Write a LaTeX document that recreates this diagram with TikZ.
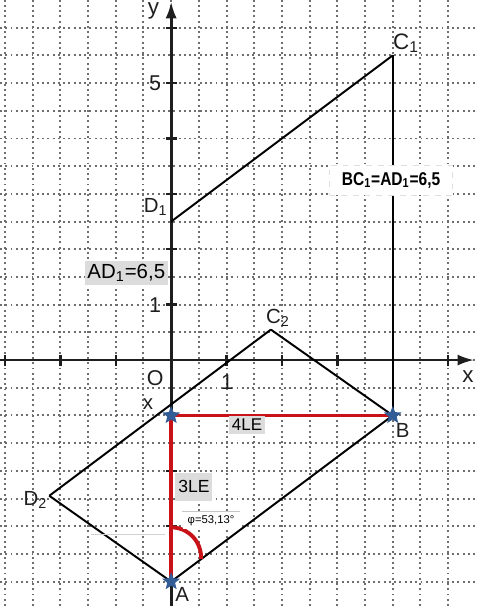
\documentclass[tikz,border=0pt]{standalone}
\usepackage{fontspec}
\setmainfont{Liberation Sans}
\usetikzlibrary{arrows.meta}
\usetikzlibrary{shapes.geometric}
\definecolor{red1}{RGB}{200, 18, 24}
\definecolor{blue1}{RGB}{50, 92, 150}
\definecolor{grid1}{RGB}{110, 110, 110}
\definecolor{gray1}{RGB}{220, 220, 220}
\definecolor{ink1}{RGB}{30, 30, 30}

\begin{document}
\begin{tikzpicture}[line width=1pt,
  gridline/.style={grid1, line width=1pt, dash pattern=on 1pt off 1.7pt},
  axisline/.style={ink1, line width=1.4pt, -{Latex[length=0.3cm,width=0.2cm]}},
  redline/.style={red1, line width=2pt},
  starnode/.style={star, star points=5, star point ratio=2.3, fill=blue1, minimum size=0.34cm, inner sep=0pt},
  graybox/.style={fill=gray1, inner sep=1.5pt},
  lbl/.style={ink1, font=\fontsize{10.5}{12}\selectfont, inner sep=0pt}]
  \useasboundingbox (-3.09,-4.44) rectangle (5.505,6.5);

  % grid
  \foreach \x in {-3,-2.5,...,5.1}
   \draw[gridline] (\x,-4.44) -- (\x,6.5);
  \foreach \y in {-4,-3.5,...,6.1}
   \draw[gridline] (-3.09,\y) -- (5.505,\y);

  % axes
  \coordinate (xl) at (-3.09,0);
  \coordinate (xr) at (5.47,0);
  \coordinate (yb) at (0,-4.44);
  \coordinate (yt) at (0,6.47);
  \draw[axisline] (xl) -- (xr);
  \draw[axisline] (yb) -- (yt);
  \foreach \x in {-3,-2,-1,1,2,3,4,5}
   \draw[ink1, line width=1.2pt] (\x,0.1) -- (\x,-0.1);
  \foreach \y in {-3,-2,1,2,3,4,5,6}
   \draw[ink1, line width=1.2pt] (0.1,\y) -- (-0.1,\y);

  \node[lbl, font=\fontsize{11.5}{13}\selectfont] (ylab) at (-0.32,6.3) {y};
  \node[lbl, font=\fontsize{11.5}{13}\selectfont] (xlab) at (5.36,-0.3) {x};
  \node[lbl, font=\fontsize{11}{13}\selectfont] (five) at (-0.29,5) {5};
  \node[lbl, font=\fontsize{11}{13}\selectfont] (oneY) at (-0.29,1) {1};
  \node[lbl, font=\fontsize{11}{13}\selectfont] (orig) at (-0.29,-0.33) {O};
  \node[lbl, font=\fontsize{11}{13}\selectfont] (oneX) at (1.01,-0.4) {1};

  % points
  \coordinate (A) at (0,-4);
  \coordinate (X) at (0,-1);
  \coordinate (B) at (4,-1);
  \coordinate (C1) at (4,5.5);
  \coordinate (D1) at (0,2.5);
  \coordinate (C2) at (1.8,0.55);
  \coordinate (D2) at (-2.2,-2.45);
  \coordinate (phiA) at (0,-3.02);

  \foreach \from/\to in {D1/C1, C1/B, A/B, B/C2, C2/D2, D2/A}
   \draw[black] (\from) -- (\to);

  \draw[redline] (A) -- (X) -- (B);
  \draw[redline] (phiA) arc[start angle=90, end angle=-3, radius=0.54];

  % boxes
  \node[graybox, font=\fontsize{10.5}{12}\selectfont] (ad1) at (-0.81,1.57) {AD\textsubscript{1}=6,5};
  \node[fill=white, draw=gray!25, dashed, line width=0.4pt, minimum width=2.22cm, minimum height=0.54cm] (bc1) at (3.97,3.25)
   {\scalebox{0.84}[1]{\fontsize{9.5}{11}\selectfont\bfseries BC\textsubscript{1}=AD\textsubscript{1}=6,5}};
  \node[graybox, font=\fontsize{8.7}{10}\selectfont] (le4) at (1.37,-1.17) {4LE};
  \node[graybox, font=\fontsize{9}{10}\selectfont, minimum height=0.5cm, minimum width=0.6cm] (le3) at (0.41,-2.29) {3LE};
  \node[fill=white, inner sep=1.5pt, minimum width=1.02cm, font=\fontsize{5.8}{7}\selectfont] (phi) at (0.72,-2.9) {φ=53,13°};
  \draw[gray!45, line width=0.5pt] (phi.north west) -- (phi.north east);
  \coordinate (g1) at (-1.45,-3.14);
  \coordinate (g2) at (-0.12,-3.14);
  \draw[gray!35, line width=0.5pt] (g1) -- (g2);

  % stars
  \node[starnode] (sA) at (A) {};
  \node[starnode] (sX) at (X) {};
  \node[starnode] (sB) at (B) {};

  % labels
  \node[lbl] (lA) at (0.2,-4.23) {A};
  \node[lbl] (lB) at (4.18,-1.27) {B};
  \node[lbl] (lX) at (-0.42,-0.8) {x};
  \node[lbl, font=\fontsize{11.5}{13}\selectfont] (lC1) at (4.24,5.72) {C\textsubscript{1}};
  \node[lbl] (lD1) at (-0.28,2.76) {D\textsubscript{1}};
  \node[lbl] (lC2) at (1.93,0.76) {C\textsubscript{2}};
  \node[lbl] (lD2) at (-2.45,-2.52) {D\textsubscript{2}};
\end{tikzpicture}
\end{document}
